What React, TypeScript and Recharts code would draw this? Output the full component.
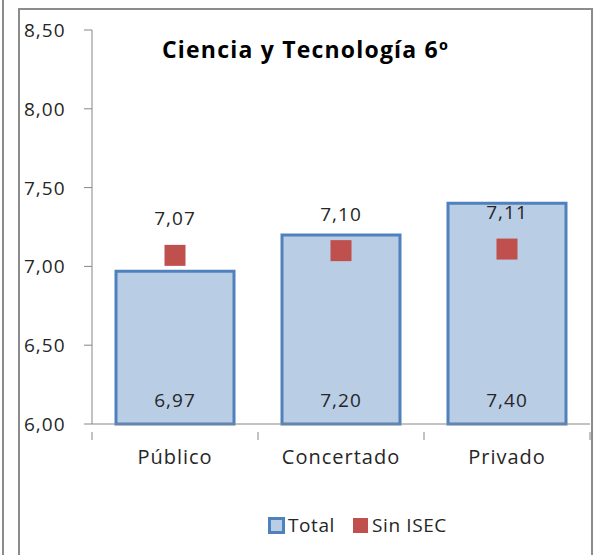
import React from 'react';
import { ComposedChart, Bar, Line, XAxis, YAxis, LabelList, Legend } from 'recharts';

const categories = ['Público', 'Concertado', 'Privado'];
const totalValues = [6.97, 7.2, 7.4];
const sinIsecValues = [7.07, 7.1, 7.11];
const yTicks = [6, 6.5, 7, 7.5, 8, 8.5];
const titleText = 'Ciencia y Tecnología 6º';

const data = categories.map((c, i) => ({ name: c, total: totalValues[i], sinIsec: sinIsecValues[i] }));

const FONT = '"Open Sans", sans-serif';
const fmt = (v: number) => v.toFixed(2).replace('.', ',');

const YTick = (props: any) => {
  const { y, payload } = props;
  return (
    <text x={24} y={y} dy={7} textAnchor="start" fontFamily={FONT} fontSize={19} letterSpacing={1} fill="#262626">
      {fmt(payload.value)}
    </text>
  );
};

const XTick = (props: any) => {
  const { x, y, payload, index, visibleTicksCount } = props;
  const half = payload.offset || 83;
  const last = index === (visibleTicksCount ?? 3) - 1;
  return (
    <g>
      <line x1={x - half} x2={x - half} y1={y} y2={y + 8} stroke="#868686" />
      {last && <line x1={x + half} x2={x + half} y1={y} y2={y + 8} stroke="#868686" />}
      <text x={x} y={y + 32} textAnchor="middle" fontFamily={FONT} fontSize={20} letterSpacing={1} fill="#262626">
        {payload.value}
      </text>
    </g>
  );
};

const TotalLabel = (props: any) => {
  const { x, y, width, height, value } = props;
  return (
    <text x={x + width / 2} y={y + height - 17} textAnchor="middle" fontFamily={FONT} fontSize={19} letterSpacing={1} fill="#262626">
      {fmt(value)}
    </text>
  );
};

const SinLabel = (props: any) => {
  const { x, y, value } = props;
  return (
    <text x={x} y={y - 30} textAnchor="middle" fontFamily={FONT} fontSize={19} letterSpacing={1} fill="#262626">
      {fmt(value)}
    </text>
  );
};

const SquareDot = (props: any) => {
  const { cx, cy } = props;
  if (cx == null || cy == null) return null;
  return <rect x={cx - 10.5} y={cy - 10.5} width={21} height={21} fill="#C0504D" />;
};

const LegendContent = () => (
  <div style={{ display: 'flex', alignItems: 'center', marginLeft: 268, fontFamily: FONT, fontSize: 19, letterSpacing: 0.6, color: '#262626', height: 60 }}>
    <span style={{ display: 'inline-block', width: 11, height: 11, background: '#B9CDE5', border: '3px solid #4F81BD', marginRight: 3 }} />
    <span style={{ marginRight: 18 }}>Total</span>
    <span style={{ display: 'inline-block', width: 15, height: 15, background: '#C0504D', marginRight: 4 }} />
    <span>Sin ISEC</span>
  </div>
);

export default function App() {
  return (
    <div style={{ position: 'absolute', left: 0, top: 0, width: 595, height: 555, background: '#fff', overflow: 'hidden' }}>
      <div style={{ position: 'absolute', left: 2, top: -5, width: 0, height: 600, borderLeft: '2px solid #8c8c8c' }} />
      <div style={{ position: 'absolute', left: 18, top: 8, width: 571, height: 600, border: '2px solid #8c8c8c' }} />
      <ComposedChart
        width={595}
        height={555}
        data={data}
        margin={{ top: 30, right: 5, left: 0, bottom: 0 }}
        style={{ position: 'absolute', left: 0, top: 0 }}
      >
        <XAxis
          dataKey="name"
          axisLine={{ stroke: '#868686' }}
          tickLine={false}
          tick={<XTick />}
          height={71}
          interval={0}
        />
        <YAxis
          domain={[6, 8.5]}
          ticks={yTicks}
          width={92}
          axisLine={{ stroke: '#868686' }}
          tickLine={{ stroke: '#868686' }}
          tickSize={8}
          tick={<YTick />}
          interval={0}
        />
        <Legend verticalAlign="bottom" height={60} content={<LegendContent />} />
        <Bar dataKey="total" name="Total" fill="#B9CDE5" stroke="#4F81BD" strokeWidth={3} barSize={118} isAnimationActive={false}>
          <LabelList dataKey="total" content={<TotalLabel />} />
        </Bar>
        <Line dataKey="sinIsec" name="Sin ISEC" stroke="none" dot={<SquareDot />} activeDot={false} isAnimationActive={false}>
          <LabelList dataKey="sinIsec" content={<SinLabel />} />
        </Line>
      </ComposedChart>
      <div style={{ position: 'absolute', left: 162, top: 33, fontFamily: FONT, fontWeight: 700, fontSize: 23, letterSpacing: 1.2, lineHeight: 'normal', color: '#000', whiteSpace: 'nowrap' }}>
        {titleText}
      </div>
    </div>
  );
}
